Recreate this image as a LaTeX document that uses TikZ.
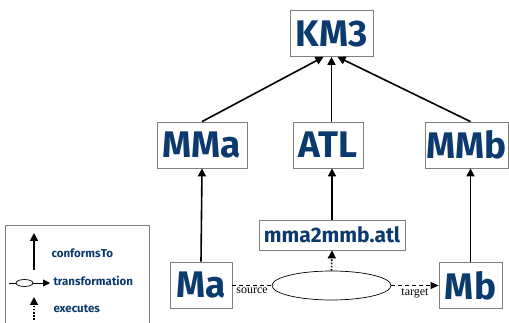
\documentclass[tikz,border=0pt]{standalone}
\usepackage{fontspec}
\setmainfont{Liberation Serif}
\newfontfamily\comicfont{Fira Sans}
\usetikzlibrary{arrows.meta,shapes.geometric}
\definecolor{mmblue}{HTML}{0B3A6E}
\definecolor{boxgray}{HTML}{808080}
\tikzset{
	model/.style={draw=boxgray, line width=0.8pt, fill=white, text=mmblue, inner sep=0pt,
		font=\comicfont\bfseries\fontsize{37}{37}\selectfont, minimum height=46pt},
	program/.style={draw=boxgray, line width=0.8pt, fill=white, text=mmblue, inner sep=0pt,
		font=\comicfont\bfseries\fontsize{21}{21}\selectfont, minimum height=30pt, minimum width=146pt},
	legendtext/.style={anchor=west, text=mmblue, font=\comicfont\bfseries\fontsize{11.5}{11.5}\selectfont},
	rolelabel/.style={midway, anchor=north, yshift=-1.5pt, inner sep=1pt, font=\fontsize{12}{12}\selectfont},
	conform/.style={line width=1.6pt, -{Triangle[length=8pt,width=8pt]}},
	trans/.style={line width=0.9pt, dash pattern=on 4pt off 3pt},
	exec/.style={line width=1.6pt, dash pattern=on 1.6pt off 1.6pt, -{Triangle[length=8pt,width=8pt]}},
	transell/.style={ellipse, draw, line width=0.7pt, inner sep=0pt}
}
\begin{document}
\begin{tikzpicture}[x=1pt, y=-1pt]
\useasboundingbox (0,0) rectangle (509,323);
% models
\node[model, minimum width=83pt] (km3) at (331.5,33.5) {KM3};
\node[model, minimum width=90pt] (mma) at (202,145) {MMa};
\node[model, minimum width=70pt] (atl) at (328,145) {ATL};
\node[model, minimum width=83pt] (mmb) at (466.5,145) {MMb};
\node[model, minimum width=62pt] (ma) at (201,285) {Ma};
\node[model, minimum width=63pt] (mb) at (470.5,285.5) {Mb};
\node[program] (prog) at (332,235) {mma2mmb.atl};
\node[transell, minimum width=119pt, minimum height=29pt] (tr) at (331.5,285.5) {};

\draw[conform] (mma.north) -- ([xshift=-8pt]km3.south);
\draw[conform] (atl.north -| km3.south) -- (km3.south);
\draw[conform] ([xshift=4pt]mmb.north) -- ([xshift=6pt]km3.south);
\draw[conform] (ma.north) -- (mma.south);
\draw[conform] (prog.north) -- (prog.north |- atl.south);
\draw[conform] (mb.north) -- (mb.north |- mmb.south);
\draw[exec] (tr.north) -- (prog.south);
\draw[trans] (ma.east) -- (ma.east -| tr.west) node[rolelabel] {source};
\draw[trans, -{Triangle[length=8pt,width=7pt]}] (tr.east) -- (tr.east -| mb.west) node[rolelabel] {target};

% legend
\draw[boxgray, line width=0.8pt] (5,324) -- (5,225) -- (149,225) -- (149,324);
\coordinate (c1) at (34,270);
\coordinate (c2) at (34,233);
\draw[conform] (c1) -- (c2);
\node[legendtext] (lc) at (48,253) {conformsTo};
\node[transell, minimum width=17pt, minimum height=7pt] (le) at (24.5,283) {};
\coordinate (t1) at (9,283);
\coordinate (t2) at (50,283);
\draw[line width=0.9pt] (t1) -- (le.west);
\draw[line width=0.9pt, -{Triangle[length=7pt,width=7pt]}] (le.east) -- (t2);
\node[legendtext] (lt) at (50,281) {transformation};
\coordinate (e1) at (34,320);
\coordinate (e2) at (34,297);
\draw[exec] (e1) -- (e2);
\node[legendtext] (lx) at (50,309) {executes};
\end{tikzpicture}
\end{document}
